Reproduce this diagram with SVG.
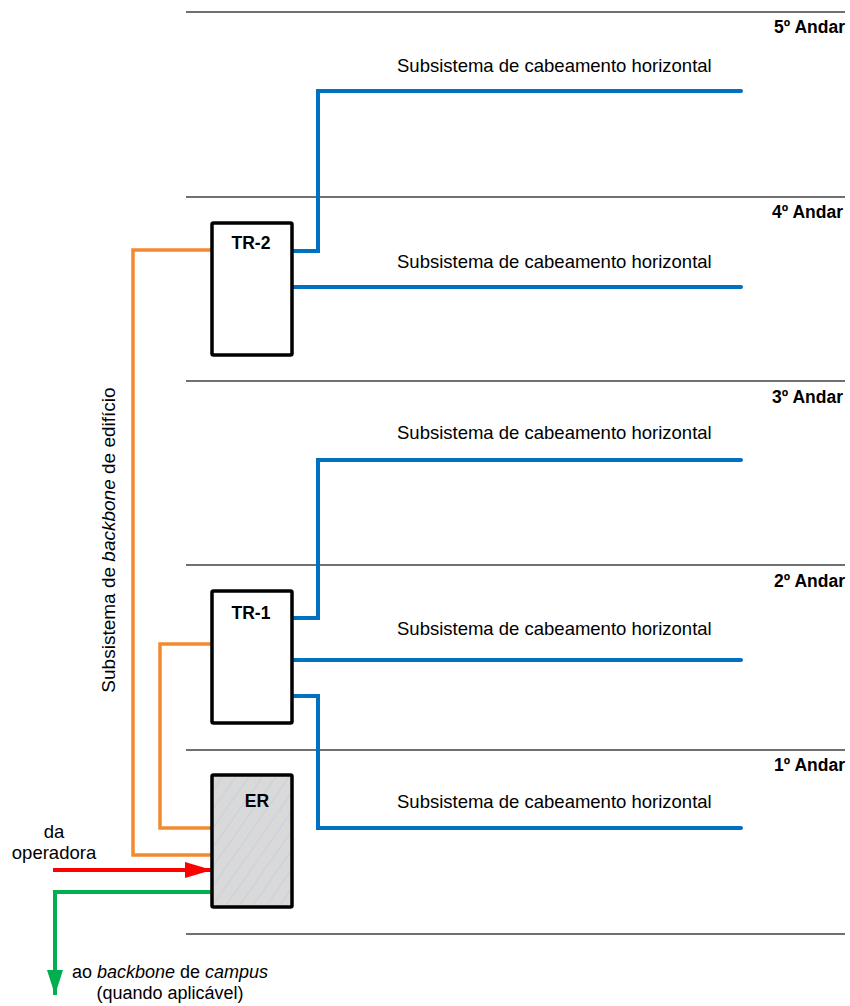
<svg xmlns="http://www.w3.org/2000/svg" width="850" height="1006" viewBox="0 0 850 1006">
<style>
.floor{stroke:#404040;stroke-width:1.5;fill:none}
.blue{stroke:#0070C0;stroke-width:4;fill:none;stroke-linecap:round;stroke-linejoin:miter}
.orange{stroke:#F28A2E;stroke-width:3.5;fill:none;stroke-linejoin:miter}
.box{stroke:#000;stroke-width:3.5;fill:#fff}
.er{stroke:#000;stroke-width:3.5;fill:#d9d9d9}
.t{font-family:"Liberation Sans",Arial,sans-serif;font-size:18.5px;fill:#000}
.b{font-family:"Liberation Sans",Arial,sans-serif;font-size:17.5px;font-weight:bold;fill:#000}
</style>
<defs>
<pattern id="hatch" patternUnits="userSpaceOnUse" width="11" height="11" patternTransform="rotate(35)">
<line x1="0" y1="0" x2="0" y2="11" stroke="#b4c8e2" stroke-width="1"/>
</pattern>
<marker id="arrRed" markerUnits="userSpaceOnUse" markerWidth="28" markerHeight="18" refX="27" refY="8" orient="auto">
<path d="M0,0 L27,8 L0,16 Z" fill="#FF0000"/>
</marker>
<marker id="arrGreen" markerUnits="userSpaceOnUse" markerWidth="26" markerHeight="18" refX="25" refY="8" orient="auto">
<path d="M0,0 L25,8 L0,16 Z" fill="#00B050"/>
</marker>
</defs>
<rect width="850" height="1006" fill="#fff"/>

<g id="floors">
<line class="floor" x1="186" y1="12" x2="845" y2="12"/>
<line class="floor" x1="186" y1="197" x2="845" y2="197"/>
<line class="floor" x1="186" y1="381" x2="845" y2="381"/>
<line class="floor" x1="186" y1="565" x2="845" y2="565"/>
<line class="floor" x1="186" y1="750" x2="845" y2="750"/>
<line class="floor" x1="186" y1="934" x2="845" y2="934"/>
<text class="b" x="845" y="33" text-anchor="end">5º Andar</text>
<text class="b" x="843" y="218" text-anchor="end">4º Andar</text>
<text class="b" x="843" y="403" text-anchor="end">3º Andar</text>
<text class="b" x="845" y="587" text-anchor="end">2º Andar</text>
<text class="b" x="845" y="771" text-anchor="end">1º Andar</text>
</g>

<g id="connectors">
<polyline class="blue" points="293,251 318,251 318,91 741,91"/>
<polyline class="blue" points="293,287 741,287"/>
<polyline class="blue" points="293,618 318,618 318,460 741,460"/>
<polyline class="blue" points="293,660 741,660"/>
<polyline class="blue" points="293,696 318,696 318,828 741,828"/>
<polyline class="orange" points="212,250 133,250 133,855 212,855"/>
<polyline class="orange" points="212,644 160,644 160,828 212,828"/>
<line x1="53" y1="870" x2="212" y2="870" stroke="#FF0000" stroke-width="4" marker-end="url(#arrRed)"/>
<polyline points="212,892 55,892 55,995" fill="none" stroke="#00B050" stroke-width="4" marker-end="url(#arrGreen)"/>
</g>

<g id="labels">
<text class="t" x="397" y="72">Subsistema de cabeamento horizontal</text>
<text class="t" x="397" y="268">Subsistema de cabeamento horizontal</text>
<text class="t" x="397" y="439">Subsistema de cabeamento horizontal</text>
<text class="t" x="397" y="635">Subsistema de cabeamento horizontal</text>
<text class="t" x="397" y="808">Subsistema de cabeamento horizontal</text>
<text class="t" style="font-size:19px" transform="translate(115,540) rotate(-90)" text-anchor="middle">Subsistema de <tspan font-style="italic">backbone</tspan> de edifício</text>
<text class="t" text-anchor="middle"><tspan x="54" y="838">da</tspan><tspan x="54" y="859">operadora</tspan></text>
<text class="t" text-anchor="middle" style="font-size:18px"><tspan x="170" y="978">ao <tspan font-style="italic">backbone</tspan> de <tspan font-style="italic">campus</tspan></tspan><tspan x="170" y="999">(quando aplicável)</tspan></text>
</g>

<g id="TR-2">
<rect class="box" x="212" y="223" width="80" height="132" rx="1.5"/>
<text class="b" x="251" y="249" text-anchor="middle">TR-2</text>
</g>

<g id="TR-1">
<rect class="box" x="212" y="591" width="80" height="132" rx="1.5"/>
<text class="b" x="251" y="619" text-anchor="middle">TR-1</text>
</g>

<g id="ER">
<rect class="er" x="212" y="775" width="80" height="132" rx="1.5"/>
<rect x="214" y="777" width="76" height="128" fill="url(#hatch)"/>
<text class="b" x="257" y="807" text-anchor="middle">ER</text>
</g>
</svg>
